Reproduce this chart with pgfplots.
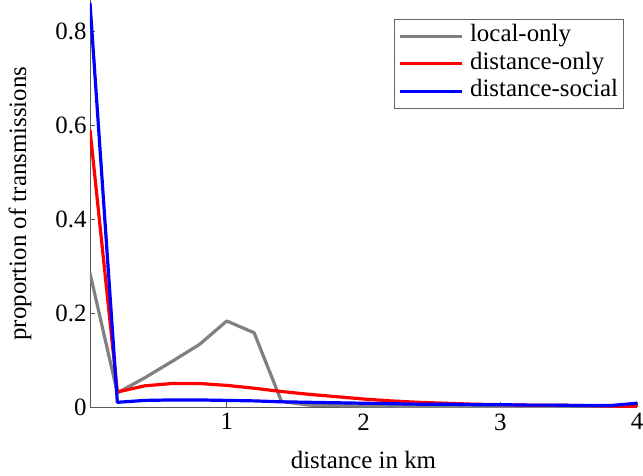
\documentclass[border=0pt]{standalone}
\usepackage{fontspec}
\setmainfont{Liberation Serif}
\usepackage{pgfplots}
\pgfplotsset{compat=1.18}
\begin{document}
\begin{tikzpicture}
\begin{axis}[
  scale only axis,
  width=547bp, height=407bp,
  xmin=0, xmax=4, ymin=0, ymax=0.866,
  axis lines*=left,
  axis line style={draw=black!65, line width=0.7pt},
  tick align=inside,
  major tick length=5bp,
  tick style={black!65, line width=0.7pt},
  xtick={1,2,3,4},
  ytick={0,0.2,0.4,0.6,0.8},
  yticklabels={0,0.2,0.4,0.6,0.8},
  /pgf/number format/assume math mode=true,
  ticklabel style={font=\fontsize{25}{30}\selectfont},
  xticklabel style={yshift=-3bp},
  label style={font=\fontsize{25}{30}\selectfont},
  xlabel={distance in km},
  ylabel={proportion of transmissions},
  xlabel style={at={(axis description cs:0.5,-0.130)}, anchor=center},
  ylabel style={at={(axis description cs:-0.128,0.5)}, anchor=center},
  legend style={at={(0.5558,0.9533)}, anchor=north west, draw=black!60, line width=0.7pt,
    font=\fontsize{25}{30}\selectfont, inner xsep=4bp, inner ysep=3bp, row sep=0bp,
    nodes={inner sep=1.5bp, text height=18bp, text depth=6.5bp},
    /tikz/every odd column/.style={column sep=5bp}},
  legend cell align=left,
  legend image code/.code={\draw[#1, line width=3.2bp] (0bp,0bp) -- (62bp,0bp);},
  every axis plot/.append style={line width=3.2bp, line join=round},
  clip=true,
]
\coordinate (O) at (rel axis cs:0,0);
\addplot[color={rgb,1:red,0.5;green,0.5;blue,0.5}] coordinates {
(0,0.285) (0.2,0.03) (0.4,0.062) (0.6,0.097) (0.8,0.133) (1.0,0.183) (1.2,0.158) (1.4,0.012)
(1.6,0.004) (1.8,0.003) (2.0,0.002) (2.2,0.002) (2.4,0.001) (2.6,0.001) (2.8,0.001) (3.0,0.001)
(3.2,0.001) (3.4,0.001) (3.6,0.001) (3.8,0.001) (4.0,0.001)};
\addlegendentry{local-only}
\addplot[color=red] coordinates {
(0,0.59) (0.2,0.032) (0.4,0.045) (0.6,0.05) (0.8,0.05) (1.0,0.046) (1.2,0.04) (1.4,0.033)
(1.6,0.027) (1.8,0.022) (2.0,0.017) (2.2,0.013) (2.4,0.010) (2.6,0.008) (2.8,0.006) (3.0,0.005)
(3.2,0.004) (3.4,0.004) (3.6,0.003) (3.8,0.002) (4.0,0.001)};
\addlegendentry{distance-only}
\addplot[color=blue] coordinates {
(0,0.86) (0.2,0.01) (0.4,0.014) (0.6,0.015) (0.8,0.015) (1.0,0.014) (1.2,0.013) (1.4,0.011)
(1.6,0.010) (1.8,0.009) (2.0,0.008) (2.2,0.007) (2.4,0.006) (2.6,0.006) (2.8,0.005) (3.0,0.005)
(3.2,0.004) (3.4,0.004) (3.6,0.003) (3.8,0.003) (4.0,0.008)};
\addlegendentry{distance-social\hspace{10bp}}
\end{axis}
\pgfresetboundingbox
\useasboundingbox (O) ++(-90bp,-69bp) rectangle ++(643bp,476bp);
\end{tikzpicture}
\end{document}
